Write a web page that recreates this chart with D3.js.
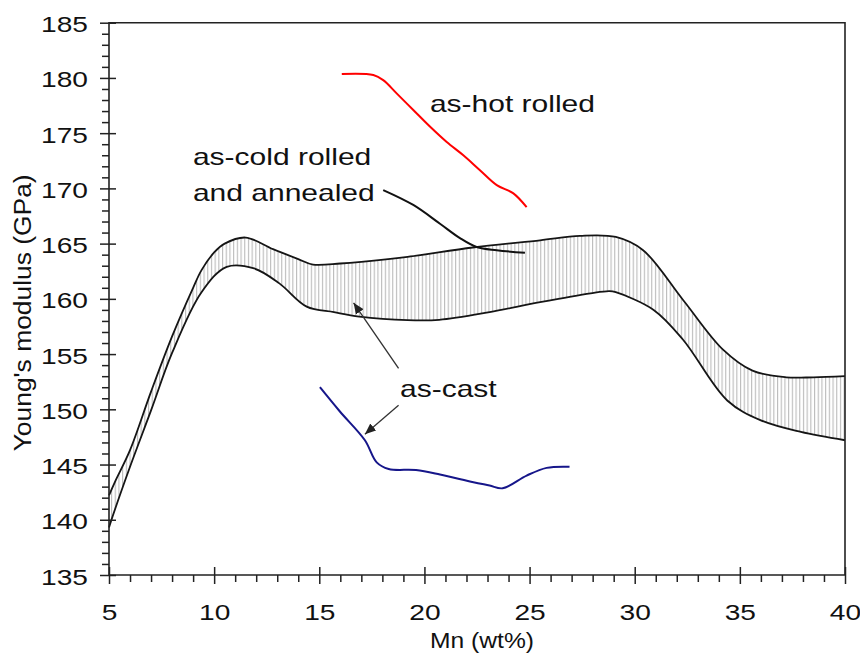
<!DOCTYPE html>
<html>
<head>
<meta charset="utf-8">
<script src="https://cdn.jsdelivr.net/npm/d3@7"></script>
<style>
  html, body { margin: 0; padding: 0; background: #fff; }
  svg { display: block; }
  text { font-family: "Liberation Sans", Arial, sans-serif; fill: #111; }
</style>
</head>
<body>
<svg id="chart" width="860" height="654"></svg>
<script>
// Young's modulus (GPa) vs Mn content (wt%)
const xTicks = [5, 10, 15, 20, 25, 30, 35, 40];
const yTicks = [135, 140, 145, 150, 155, 160, 165, 170, 175, 180, 185];

// as-cast scatter band: upper and lower bounds
const bandUpperMn = [5, 5.3, 6, 7, 8, 9, 9.4, 10, 10.5, 11.5, 12.8, 14, 14.7, 16, 17, 19.2, 22.3, 25.5, 27.4, 29.1, 30.4, 32.3, 34.2, 35.6, 37.2, 38.5, 40];
const bandUpperE  = [142.2, 143.5, 146.3, 151.6, 156.6, 161.0, 162.6, 164.2, 165.0, 165.55, 164.5, 163.6, 163.1, 163.2, 163.35, 163.8, 164.65, 165.3, 165.7, 165.6, 164.4, 159.9, 155.4, 153.5, 152.9, 152.9, 153.0];
const bandLowerMn = [5, 5.1, 6, 7, 8, 9.4, 10.6, 11.9, 13.1, 14.4, 15.7, 16.9, 19.2, 20.7, 23.1, 25.5, 27.9, 28.8, 29.1, 30.9, 32.3, 34.4, 36.0, 37.9, 40];
const bandLowerE  = [139.3, 139.9, 144.8, 149.9, 155.1, 160.6, 162.9, 162.75, 161.4, 159.3, 158.8, 158.4, 158.07, 158.1, 158.8, 159.7, 160.5, 160.7, 160.6, 159.0, 156.3, 150.8, 149.0, 147.95, 147.2];

// as-hot rolled
const hotMn = [16.07, 17.57, 18.04, 18.68, 19.47, 20.26, 21.06, 21.85, 22.64, 23.44, 24.23, 24.86];
const hotE  = [180.35, 180.26, 179.8, 178.6, 177.1, 175.6, 174.2, 173.0, 171.65, 170.3, 169.55, 168.3];

// as-cold rolled and annealed
const coldMn = [18.04, 19.47, 20.74, 21.69, 22.48, 23.44, 24.78];
const coldE  = [169.85, 168.5, 166.8, 165.5, 164.7, 164.4, 164.17];

// as-cast (single series)
const castMn = [15.03, 15.98, 17.17, 17.73, 18.3, 19.6, 20.74, 22.33, 23.1, 23.72, 24.86, 25.81, 26.9];
const castE  = [152.0, 149.8, 147.2, 145.2, 144.6, 144.5, 144.1, 143.4, 143.1, 142.85, 144.0, 144.7, 144.8];

// text labels, anchored in data units
const labelText = ["as-hot rolled", "as-cold rolled", "and annealed", "as-cast"];
const labelMn   = [20.26, 8.99, 8.99, 18.84];
const labelE    = [176.9, 172.1, 168.85, 151.1];

// arrows from the "as-cast" label
const arrowFromMn = [18.77, 18.77];
const arrowFromE  = [153.7, 150.37];
const arrowToMn   = [16.63, 17.17];
const arrowToE    = [159.64, 147.75];

const svg = d3.select("#chart");
const plotLeft = 109, plotRight = 845, plotTop = 22.7, plotBottom = 575;
const x = d3.scaleLinear().domain([5, 40]).range([plotLeft, plotRight]);
const y = d3.scaleLinear().domain([135, 185]).range([plotBottom, plotTop]);
const SX = 1.25; // horizontal glyph stretch

const zip = (a, b) => a.map((v, i) => [v, b[i]]);
const line = d3.line().x(d => x(d[0])).y(d => y(d[1])).curve(d3.curveCatmullRom.alpha(0.5));

// hatch pattern
const defs = svg.append("defs");
const pat = defs.append("pattern")
  .attr("id", "hatch").attr("patternUnits", "userSpaceOnUse")
  .attr("width", 3.7).attr("height", 20);
pat.append("line").attr("x1", 0.6).attr("x2", 0.6).attr("y1", 0).attr("y2", 20)
  .attr("stroke", "#b4b4b4").attr("stroke-width", 1);

const upper = zip(bandUpperMn, bandUpperE);
const lower = zip(bandLowerMn, bandLowerE);
const upPath = line(upper);
const loPath = line(lower.slice().reverse());
svg.append("path")
  .attr("d", upPath + "L" + loPath.slice(1) + "Z")
  .attr("fill", "url(#hatch)").attr("stroke", "none");

svg.append("path").attr("d", upPath).attr("fill", "none")
  .attr("stroke", "#151515").attr("stroke-width", 1.8);
svg.append("path").attr("d", line(lower)).attr("fill", "none")
  .attr("stroke", "#151515").attr("stroke-width", 1.8);

// series lines
svg.append("path").attr("d", line(zip(hotMn, hotE))).attr("fill", "none")
  .attr("stroke", "#ff0000").attr("stroke-width", 2).attr("stroke-linejoin", "round");
svg.append("path").attr("d", line(zip(coldMn, coldE))).attr("fill", "none")
  .attr("stroke", "#111").attr("stroke-width", 2);
svg.append("path").attr("d", line(zip(castMn, castE))).attr("fill", "none")
  .attr("stroke", "#16168a").attr("stroke-width", 2).attr("stroke-linejoin", "round");

// axes
const axisColor = "#222";
function styleAxis(g) {
  g.select(".domain").remove();
  g.selectAll("line").attr("stroke", axisColor).attr("stroke-width", 1.5);
}

const minorX = d3.range(5, 41, 1).filter(v => v % 5 !== 0);
const minorY = d3.range(135, 186, 1).filter(v => v % 5 !== 0);

const gxMinor = svg.append("g").attr("transform", `translate(0,${plotBottom})`)
  .call(d3.axisBottom(x).tickValues(minorX).tickSize(7).tickFormat(""));
styleAxis(gxMinor);
const gx = svg.append("g").attr("transform", `translate(0,${plotBottom})`)
  .call(d3.axisBottom(x).tickValues(xTicks).tickSize(9).tickFormat(d3.format("d")));
styleAxis(gx);
gx.selectAll(".tick line").attr("y1", -8);
gx.selectAll(".tick text")
  .attr("y", null).attr("dy", null)
  .attr("transform", `translate(0,45) scale(${SX},1)`)
  .attr("font-size", 22.5).attr("fill", "#111");

const gyMinor = svg.append("g").attr("transform", `translate(${plotLeft},0)`)
  .call(d3.axisLeft(y).tickValues(minorY).tickSize(7).tickFormat(""));
styleAxis(gyMinor);
const gy = svg.append("g").attr("transform", `translate(${plotLeft},0)`)
  .call(d3.axisLeft(y).tickValues(yTicks).tickSize(9).tickFormat(d3.format("d")));
styleAxis(gy);
gy.selectAll(".tick line").attr("x1", 7);
gy.selectAll(".tick text")
  .attr("x", null).attr("dy", null)
  .attr("transform", `translate(-21,9) scale(${SX},1)`)
  .attr("font-size", 22.5).attr("fill", "#111");

// frame
svg.append("path")
  .attr("d", `M${plotLeft},${plotBottom}H${plotRight}V${plotTop}H${plotLeft}Z`)
  .attr("fill", "none").attr("stroke", axisColor).attr("stroke-width", 1.6);

// axis titles
svg.append("text")
  .attr("transform", `translate(${(plotLeft + plotRight) / 2 + 5},648) scale(1.12,1)`)
  .attr("text-anchor", "middle").attr("font-size", 22)
  .text("Mn (wt%)");
svg.append("text")
  .attr("transform", `translate(31,${(plotTop + plotBottom) / 2 + 14}) rotate(-90) scale(1.1,1)`)
  .attr("text-anchor", "middle").attr("font-size", 24)
  .text("Young's modulus (GPa)");

// annotations
labelText.forEach((t, i) => {
  svg.append("text")
    .attr("transform", `translate(${x(labelMn[i])},${y(labelE[i])}) scale(${SX},1)`)
    .attr("font-size", 24).text(t);
});

defs.append("marker")
  .attr("id", "arrow").attr("viewBox", "0 0 10 10")
  .attr("refX", 10).attr("refY", 5)
  .attr("markerWidth", 11).attr("markerHeight", 11)
  .attr("markerUnits", "userSpaceOnUse")
  .attr("orient", "auto")
  .append("path").attr("d", "M0,0.8L10,5L0,9.2Z").attr("fill", "#222");

arrowFromMn.forEach((v, i) => {
  svg.append("line")
    .attr("x1", x(v)).attr("y1", y(arrowFromE[i]))
    .attr("x2", x(arrowToMn[i])).attr("y2", y(arrowToE[i]))
    .attr("stroke", "#333").attr("stroke-width", 1.3)
    .attr("marker-end", "url(#arrow)");
});
</script>
</body>
</html>
